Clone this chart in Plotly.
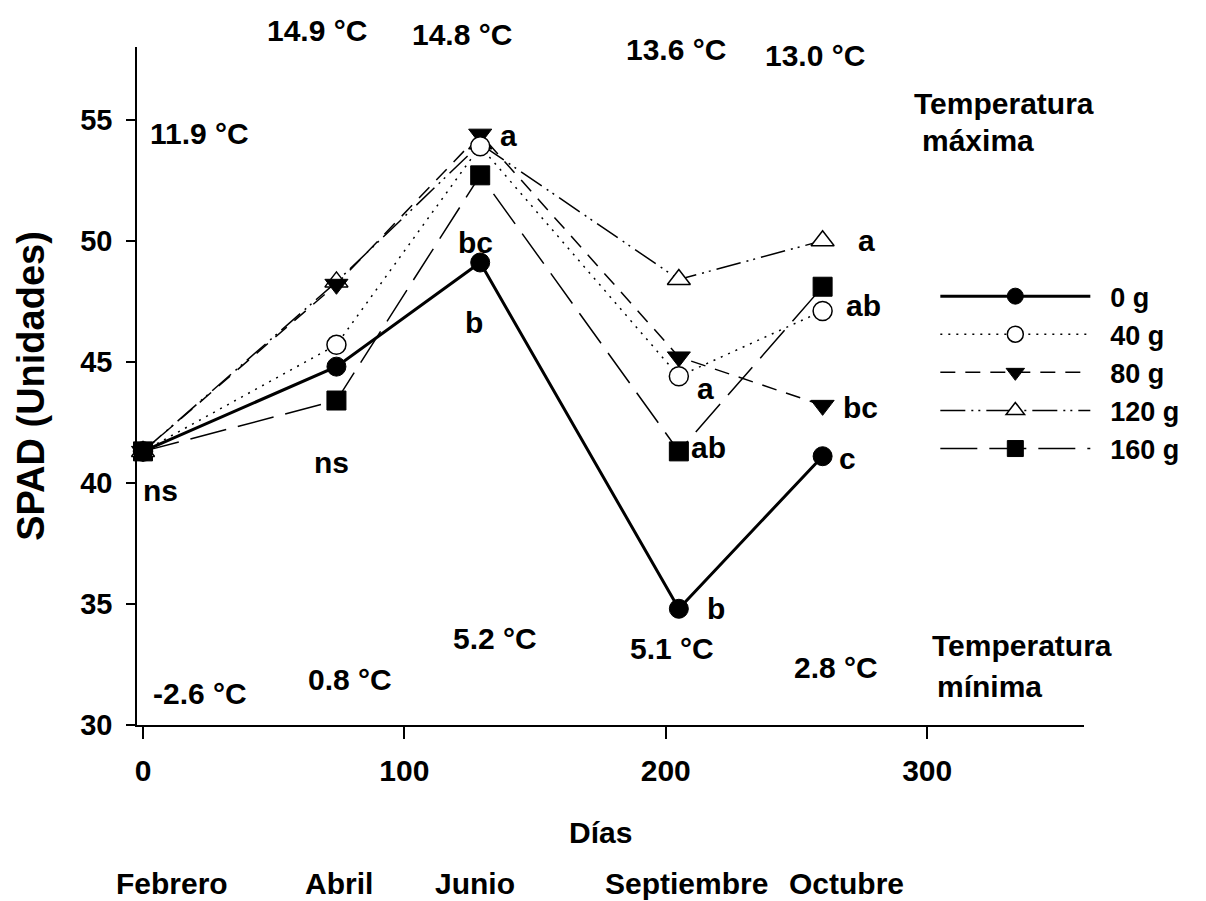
import plotly.graph_objects as go

# ---- data ----
dias = [0, 74, 129, 205, 260]
series_names = ["0 g", "40 g", "80 g", "120 g", "160 g"]
spad_0g = [41.3, 44.8, 49.1, 34.8, 41.1]
spad_40g = [41.3, 45.7, 53.9, 44.4, 47.1]
spad_80g = [41.3, 48.2, 54.4, 45.2, 43.2]
spad_120g = [41.3, 48.3, 54.0, 48.4, 50.0]
spad_160g = [41.3, 43.4, 52.7, 41.3, 48.1]

meses = ["Febrero", "Abril", "Junio", "Septiembre", "Octubre"]
meses_x = [11, 75, 127, 208, 269]

temp_max = ["11.9 °C", "14.9 °C", "14.8 °C", "13.6 °C", "13.0 °C"]
temp_max_x = [21.8, 66.6, 122.1, 204, 257.2]
temp_max_y = [0.873, 1.025, 1.018, 0.996, 0.988]   # paper fraction of plot height
temp_min = ["-2.6 °C", "0.8 °C", "5.2 °C", "5.1 °C", "2.8 °C"]
temp_min_x = [21.8, 79.2, 134.7, 202.4, 265.2]
temp_min_y = [31.32, 31.86, 33.59, 33.18, 32.39]

letras = ["ns", "ns", "a", "bc", "b", "a", "ab", "a", "ab", "bc", "b", "c"]
letras_x = [6.5, 72, 139.7, 127.1, 126.7, 276.7, 275.5, 215.1, 216.2, 274.4, 219.3, 269.4]
letras_y = [39.69, 40.85, 54.34, 49.93, 46.63, 50.0, 47.33, 43.9, 41.47, 43.12, 34.83, 41.01]

FONT = "Liberation Sans, Arial, sans-serif"
FS = 30

styles = [
    dict(line=dict(color="black", width=3, dash="solid"),
         marker=dict(symbol="circle", size=19, color="black", line=dict(color="black", width=1))),
    dict(line=dict(color="black", width=1.5, dash="2px,6px"),
         marker=dict(symbol="circle", size=19, color="white", line=dict(color="black", width=1.5))),
    dict(line=dict(color="black", width=1.5, dash="15px,10px"),
         marker=dict(symbol="triangle-down", size=20, color="black", line=dict(color="black", width=1))),
    dict(line=dict(color="black", width=1.5, dash="25px,6px,2px,5px,2px,6px"),
         marker=dict(symbol="triangle-up", size=20, color="white", line=dict(color="black", width=1.5))),
    dict(line=dict(color="black", width=1.5, dash="37px,12px"),
         marker=dict(symbol="square", size=19, color="black", line=dict(color="black", width=1))),
]
all_series = [spad_0g, spad_40g, spad_80g, spad_120g, spad_160g]

fig = go.Figure()
for i in [4, 3, 2, 1, 0]:
    fig.add_trace(go.Scatter(
        x=dias, y=all_series[i], name="  " + series_names[i], mode="lines+markers",
        legendgroup=series_names[i], legendrank=i,
        line=styles[i]["line"], marker=styles[i]["marker"], cliponaxis=False,
    ))

ann = []
def add(text, x, y, xanchor="center", xref="x", yref="y"):
    ann.append(dict(text=text, x=x, y=y, xref=xref, yref=yref, showarrow=False,
                    xanchor=xanchor, yanchor="middle",
                    font=dict(family=FONT, size=FS, color="black", weight="bold")))

for t, x, y in zip(temp_max, temp_max_x, temp_max_y):
    add(t, x, y, yref="paper")
for t, x, y in zip(temp_min, temp_min_x, temp_min_y):
    add(t, x, y)
for t, x, y in zip(letras, letras_x, letras_y):
    add(t, x, y)
add("Temperatura", 294.3, 55.66, "left")
add("máxima", 297.4, 54.13, "left")
add("Temperatura", 301.2, 33.3, "left")
add("mínima", 303.1, 31.57, "left")
for t, x in zip(meses, meses_x):
    add(t, x, -0.2345, yref="paper")
add("Días", 175, -0.158, yref="paper")

fig.update_layout(
    width=1206, height=901,
    margin=dict(l=137, r=122, t=47, b=176),
    paper_bgcolor="white", plot_bgcolor="white",
    font=dict(family=FONT, size=FS, color="black"),
    annotations=ann,
    showlegend=True,
    legend=dict(x=0.843, y=0.668, xanchor="left", yanchor="top",
                traceorder="grouped", tracegroupgap=0, itemwidth=150,
                bgcolor="rgba(0,0,0,0)",
                font=dict(family=FONT, size=27, color="black", weight="bold")),
    xaxis=dict(range=[-2.3, 360], tickvals=[0, 100, 200, 300], showgrid=False,
               zeroline=False, showline=True, linecolor="black", linewidth=1.5,
               ticks="outside", ticklen=12, tickwidth=1.5, tickcolor="black",
               ticklabelstandoff=6,
               tickfont=dict(family=FONT, size=FS, color="black", weight="bold")),
    yaxis=dict(range=[30, 58], tickvals=[30, 35, 40, 45, 50, 55], showgrid=False,
               zeroline=False, showline=True, linecolor="black", linewidth=1.5,
               ticks="outside", ticklen=9, tickwidth=1.5, tickcolor="black",
               ticklabelstandoff=8,
               tickfont=dict(family=FONT, size=FS - 1, color="black", weight="bold"),
               title=dict(text="SPAD (Unidades)", standoff=24,
                          font=dict(family=FONT, size=38, color="black", weight="bold"))),
)

fig.write_html("out.html")
